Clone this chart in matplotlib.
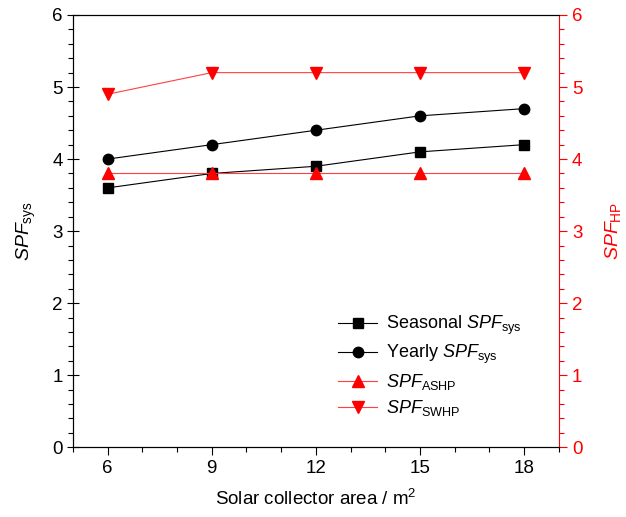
import matplotlib
matplotlib.use('Agg')
import matplotlib.pyplot as plt
from matplotlib.ticker import MultipleLocator

plt.rcParams['font.family'] = 'Liberation Sans'
plt.rcParams['mathtext.fontset'] = 'custom'
plt.rcParams['mathtext.rm'] = 'Liberation Sans'
plt.rcParams['mathtext.it'] = 'Liberation Sans:italic'

## data
area = [6, 9, 12, 15, 18]
seasonal_sys = [3.6, 3.8, 3.9, 4.1, 4.2]
yearly_sys = [4.0, 4.2, 4.4, 4.6, 4.7]
spf_ashp = [3.8, 3.8, 3.8, 3.8, 3.8]
spf_swhp = [4.9, 5.2, 5.2, 5.2, 5.2]

fig = plt.figure(figsize=(6.26, 5.17), dpi=100)
ax = fig.add_axes([0.1166, 0.135, 0.776, 0.836])
ax2 = ax.twinx()

l1, = ax.plot(area, seasonal_sys, color='black', lw=0.8, marker='s', ms=7,
              label=r'Seasonal $\mathit{SPF}_{\mathrm{sys}}$')
l2, = ax.plot(area, yearly_sys, color='black', lw=0.8, marker='o', ms=7.5,
              label=r'Yearly $\mathit{SPF}_{\mathrm{sys}}$')
l3, = ax2.plot(area, spf_ashp, color='#ff4040', lw=0.8, marker='^', ms=8.5,
               mfc='red', mec='red', label=r'$\mathit{SPF}_{\mathrm{ASHP}}$')
l4, = ax2.plot(area, spf_swhp, color='#ff4040', lw=0.8, marker='v', ms=8.5,
               mfc='red', mec='red', label=r'$\mathit{SPF}_{\mathrm{SWHP}}$')

ax.set_xlim(5, 19)
ax.set_ylim(0, 6)
ax2.set_ylim(0, 6)
ax.set_xticks(area)
ax.xaxis.set_minor_locator(MultipleLocator(1))
ax.yaxis.set_major_locator(MultipleLocator(1))
ax.yaxis.set_minor_locator(MultipleLocator(0.2))
ax2.yaxis.set_major_locator(MultipleLocator(1))
ax2.yaxis.set_minor_locator(MultipleLocator(0.2))

ax.tick_params(axis='both', which='major', labelsize=13.5, length=6, width=0.8, direction='out')
ax.tick_params(axis='both', which='minor', length=3.5, width=0.8, direction='out')
ax.tick_params(axis='y', which='major', direction='inout', length=8)
ax2.tick_params(axis='y', which='major', labelsize=13.5, length=6, width=0.8,
                colors='red', direction='out')
ax2.tick_params(axis='y', which='minor', length=3.5, width=0.8, colors='red', direction='out')

ax2.spines['right'].set_color('red')
ax.spines['right'].set_visible(False)

ax.set_xlabel(r'Solar collector area / m$^2$', fontsize=13.5, labelpad=8)
ax.set_ylabel(r'$\mathit{SPF}_{\mathrm{sys}}$', fontsize=14, labelpad=10)
ax2.set_ylabel(r'$\mathit{SPF}_{\mathrm{HP}}$', fontsize=14, color='red', labelpad=15)

ax2.legend(handles=[l1, l2, l3, l4], loc='upper left', bbox_to_anchor=(0.53, 0.325),
           frameon=False, fontsize=13, handlelength=2.2, labelspacing=0.33,
           handletextpad=0.5, borderaxespad=0)

fig.savefig('out.png', dpi=100)
